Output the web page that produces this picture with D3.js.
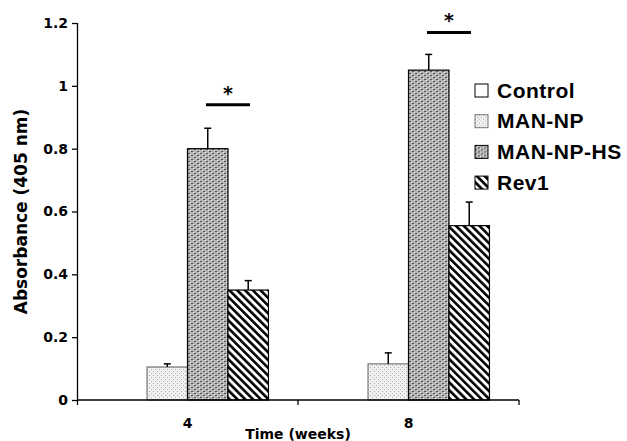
<!DOCTYPE html>
<meta charset="utf-8">
<head>
    <title>Absorbance bar chart</title>
    <script src="https://d3js.org/d3.v7.min.js"></script>
</head>

<style>
body { margin: 0; background: #fff; }
.axis text { font-family: "DejaVu Sans", sans-serif; font-weight: bold; font-size: 14px; fill: #000; }
.axis path, .axis line { stroke: #000; stroke-width: 1.3px; }
.legend text { font-family: "Liberation Sans", Arial, sans-serif; font-weight: bold; font-size: 21px; letter-spacing: 0.5px; fill: #000; }
</style>

<body>
<svg></svg>

<script>

// data
let groups = ["4", "8"];
let series = ["Control", "MAN-NP", "MAN-NP-HS", "Rev1"];
let values = [
  [0, 0.105, 0.80, 0.35],   // week 4
  [0, 0.115, 1.05, 0.555]   // week 8
];
let errors = [
  [0, 0.01, 0.065, 0.03],
  [0, 0.035, 0.05, 0.075]
];
// significance bar heights (between MAN-NP-HS and Rev1)
let sigLevels = [0.94, 1.17];
let yTicks = [0, 0.2, 0.4, 0.6, 0.8, 1, 1.2];
let yTickLabels = ["0", "0.2", "0.4", "0.6", "0.8", "1", "1.2"];

let fills = ["#fff", "url(#p-np)", "url(#p-hs)", "url(#p-rev)"];

let margin = {top: 23, right: 108, bottom: 41, left: 77};
let width = 627 - margin.left - margin.right;
let height = 441 - margin.top - margin.bottom;

let svgRoot = d3.select("svg")
    .attr("width", 627)
    .attr("height", 441);

// patterns
let defs = svgRoot.append("defs");

let pNp = defs.append("pattern").attr("id", "p-np")
    .attr("patternUnits", "userSpaceOnUse").attr("width", 4).attr("height", 4);
pNp.append("rect").attr("width", 4).attr("height", 4).attr("fill", "#f0f0f0");
pNp.append("rect").attr("x", 0).attr("y", 0).attr("width", 1).attr("height", 1).attr("fill", "#a8a8a8");
pNp.append("rect").attr("x", 2).attr("y", 2).attr("width", 1).attr("height", 1).attr("fill", "#b8b8b8");

let pHs = defs.append("pattern").attr("id", "p-hs")
    .attr("patternUnits", "userSpaceOnUse").attr("width", 6).attr("height", 4);
pHs.append("rect").attr("width", 6).attr("height", 4).attr("fill", "#b4b4b4");
pHs.append("rect").attr("x", 0).attr("y", 0).attr("width", 2).attr("height", 1).attr("fill", "#555");
pHs.append("rect").attr("x", 3).attr("y", 2).attr("width", 2).attr("height", 1).attr("fill", "#555");
pHs.append("rect").attr("x", 2).attr("y", 1).attr("width", 1).attr("height", 1).attr("fill", "#eee");
pHs.append("rect").attr("x", 5).attr("y", 3).attr("width", 1).attr("height", 1).attr("fill", "#eee");

let pRev = defs.append("pattern").attr("id", "p-rev")
    .attr("patternUnits", "userSpaceOnUse").attr("width", 5.5).attr("height", 5.5)
    .attr("patternTransform", "rotate(-45)");
pRev.append("rect").attr("width", 5.5).attr("height", 5.5).attr("fill", "#fff");
pRev.append("rect").attr("x", 0).attr("width", 2.6).attr("height", 5.5).attr("fill", "#000");

let svg = svgRoot.append("g")
    .attr("transform", "translate(" + margin.left + "," + margin.top + ")");

// scales
let x0 = d3.scaleBand().domain(groups).range([0, width]).padding(0);
let x1 = d3.scaleBand().domain(series).range([0, x0.bandwidth()])
    .paddingInner(0).paddingOuter(0.73);
let y = d3.scaleLinear().domain([0, 1.2]).range([height, 0]);

// bars
let grp = svg.selectAll(".grp")
  .data(groups)
  .enter().append("g")
    .attr("class", "grp")
    .attr("transform", function(d) { return "translate(" + x0(d) + ",0)"; });

grp.selectAll("rect")
  .data(function(d, i) { return series.map(function(s, j) { return {s: s, j: j, v: values[i][j], e: errors[i][j]}; }); })
  .enter().append("rect")
    .filter(function(d) { return d.v > 0; })
    .attr("x", function(d) { return x1(d.s); })
    .attr("y", function(d) { return y(d.v); })
    .attr("width", x1.bandwidth())
    .attr("height", function(d) { return y(0) - y(d.v); })
    .attr("fill", function(d) { return fills[d.j]; })
    .attr("stroke", function(d) { return d.j == 1 ? "#777" : "#000"; })
    .attr("stroke-width", 1.2);

// error bars (upper only)
let eb = grp.selectAll(".err")
  .data(function(d, i) { return series.map(function(s, j) { return {s: s, v: values[i][j], e: errors[i][j]}; }).filter(function(d) { return d.v > 0; }); })
  .enter().append("g").attr("class", "err");

eb.append("line")
    .attr("x1", function(d) { return x1(d.s) + x1.bandwidth() / 2; })
    .attr("x2", function(d) { return x1(d.s) + x1.bandwidth() / 2; })
    .attr("y1", function(d) { return y(d.v); })
    .attr("y2", function(d) { return y(d.v + d.e); })
    .attr("stroke", "#000").attr("stroke-width", 1.5);

eb.append("line")
    .attr("x1", function(d) { return x1(d.s) + x1.bandwidth() / 2 - 3.5; })
    .attr("x2", function(d) { return x1(d.s) + x1.bandwidth() / 2 + 3.5; })
    .attr("y1", function(d) { return y(d.v + d.e); })
    .attr("y2", function(d) { return y(d.v + d.e); })
    .attr("stroke", "#000").attr("stroke-width", 1.5);

// significance markers
grp.append("line")
    .attr("x1", x1("Rev1") - 22)
    .attr("x2", x1("Rev1") + 22)
    .attr("y1", function(d, i) { return y(sigLevels[i]); })
    .attr("y2", function(d, i) { return y(sigLevels[i]); })
    .attr("stroke", "#000").attr("stroke-width", 3);

grp.append("text")
    .attr("x", x1("Rev1"))
    .attr("y", function(d, i) { return y(sigLevels[i]) - 5; })
    .attr("text-anchor", "middle")
    .style("font-family", "DejaVu Sans, sans-serif")
    .style("font-weight", "bold")
    .style("font-size", "19px")
    .text("*");

// y axis
svg.append("g")
    .attr("class", "axis")
    .call(d3.axisLeft(y).tickValues(yTicks).tickSize(5).tickPadding(4)
      .tickFormat(function(d, i) { return yTickLabels[i]; }))
    .call(function(g) { g.select(".domain").attr("d", "M0.5," + (height + 5) + "V0"); });

// x axis: ticks at band edges, labels at band centres
let xAxis = svg.append("g")
    .attr("class", "axis")
    .attr("transform", "translate(0," + height + ")");

xAxis.append("line").attr("x1", 0).attr("x2", width).attr("stroke", "#000").attr("stroke-width", 1.3);
xAxis.selectAll(".xt")
  .data(groups)
  .enter().append("line")
    .attr("x1", function(d) { return x0(d) + x0.bandwidth(); })
    .attr("x2", function(d) { return x0(d) + x0.bandwidth(); })
    .attr("y1", 0).attr("y2", 5)
    .attr("stroke", "#000").attr("stroke-width", 1.3);
xAxis.selectAll(".xl")
  .data(groups)
  .enter().append("text")
    .attr("x", function(d) { return x0(d) + x0.bandwidth() / 2; })
    .attr("y", 28)
    .attr("text-anchor", "middle")
    .text(function(d) { return d; });

// axis titles
svgRoot.append("text")
    .attr("transform", "translate(27," + (margin.top + height / 2) + ") rotate(-90)")
    .attr("text-anchor", "middle")
    .style("font-family", "DejaVu Sans, sans-serif")
    .style("font-weight", "bold")
    .style("font-size", "17px")
    .text("Absorbance (405 nm)");

svgRoot.append("text")
    .attr("x", margin.left + width / 2)
    .attr("y", 439)
    .attr("text-anchor", "middle")
    .style("font-family", "DejaVu Sans, sans-serif")
    .style("font-weight", "bold")
    .style("font-size", "14px")
    .text("Time (weeks)");

// legend
let legend = svgRoot.append("g")
    .attr("class", "legend")
    .attr("transform", "translate(475,84)");

let li = legend.selectAll("g")
  .data(series)
  .enter().append("g")
    .attr("transform", function(d, i) { return "translate(0," + (i * 30.7) + ")"; });

li.append("rect")
    .attr("width", 13).attr("height", 13)
    .attr("fill", function(d, i) { return fills[i]; })
    .attr("stroke", function(d, i) { return i == 1 ? "#777" : "#000"; })
    .attr("stroke-width", 1);

li.append("text")
    .attr("x", 22)
    .attr("y", 13.5)
    .text(function(d) { return d; });

</script>
</body>
